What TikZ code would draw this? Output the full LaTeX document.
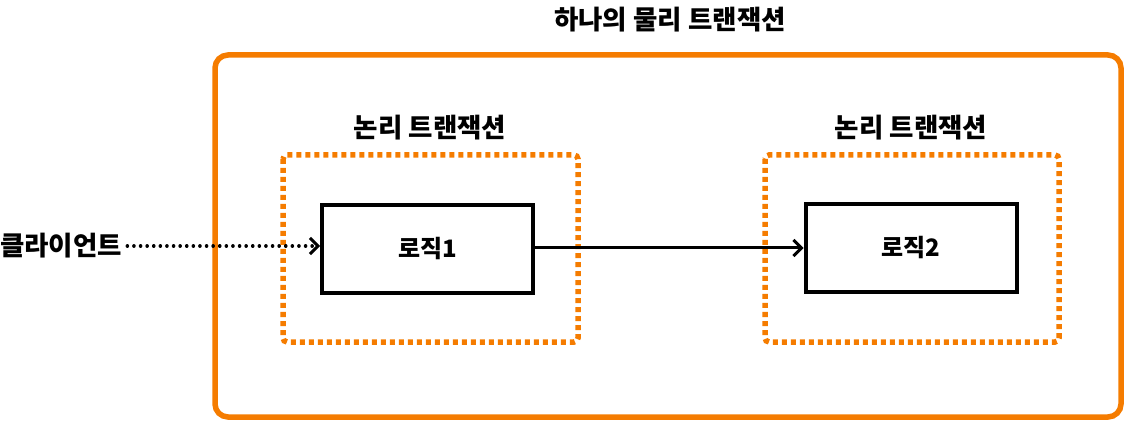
\documentclass[tikz,border=0pt]{standalone}
\usepackage{fontspec}
\setmainfont{Noto Sans CJK KR}
\usetikzlibrary{arrows.meta}
\definecolor{orng}{HTML}{F57C00}
\tikzset{
  outerbox/.style={draw=orng, line width=5.5pt, rounded corners=13pt},
  logicbox/.style={draw=orng, line width=5.5pt, dash pattern=on 5pt off 4pt, rounded corners=4pt},
  codebox/.style={draw=black, line width=4pt, minimum width=211pt, minimum height=88pt, inner sep=0pt, font=\fontsize{24}{28}\selectfont\bfseries},
  lbl/.style={inner sep=0pt, font=\fontsize{26.5}{30}\selectfont\bfseries},
  arr/.style={-{Straight Barb[length=8pt,width=16pt,line width=3pt]}, line width=3pt},
}
\begin{document}
\begin{tikzpicture}[x=1pt,y=-1pt]
\useasboundingbox (0,0) rectangle (1125,422);
\draw[outerbox] (215,55) rectangle (1121,417);
\draw[logicbox] (283,155) rectangle (578,342);
\draw[logicbox] (765,155) rectangle (1059,342);
\node[lbl] (title) at (670,20) {하나의 물리 트랜잭션};
\node[lbl] (l1) at (430,128) {논리 트랜잭션};
\node[lbl] (l2) at (911,128) {논리 트랜잭션};
\node[codebox] (c1) at (427.5,249) {로직1};
\node[codebox] (c2) at (911,248) {로직2};
\node[lbl, anchor=west] (client) at (0,246) {클라이언트};
\draw[arr, line cap=round, dash pattern=on 0.1pt off 6.5pt, line width=3.5pt] (client.east) ++(5pt,0) coordinate (cs) -- (c1.west |- cs);
\draw[arr] (c1.east |- 0,248) coordinate (a1) -- (c2.west |- a1);
\end{tikzpicture}
\end{document}
